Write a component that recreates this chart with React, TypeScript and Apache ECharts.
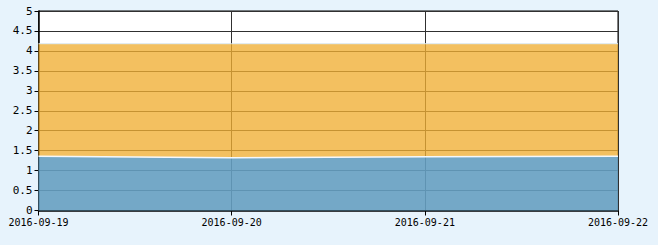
import React, { useEffect, useRef } from "react";
import * as echarts from "echarts";

const categories = ["2016-09-19", "2016-09-20", "2016-09-21", "2016-09-22"];
const blueValues = [1.36, 1.32, 1.35, 1.36];
const orangeValues = [2.82, 2.86, 2.83, 2.82];
const yTickLabels = ["0", "0.5", "1", "1.5", "2", "2.5", "3", "3.5", "4", "4.5", "5"];

export default function App() {
  const ref = useRef<HTMLDivElement>(null);
  useEffect(() => {
    const chart = echarts.init(ref.current!, null, { renderer: "svg" });
    const font = "'DejaVu Sans Mono', monospace";
    chart.setOption({
      animation: false,
      backgroundColor: "#e7f3fc",
      grid: {
        left: 38.5,
        right: 40,
        top: 11,
        bottom: 34.5,
        show: true,
        backgroundColor: "#ffffff",
        borderColor: "#000000",
        borderWidth: 1,
      },
      xAxis: {
        type: "category",
        data: categories,
        boundaryGap: false,
        axisLine: { lineStyle: { color: "#000", width: 1.5 } },
        axisTick: { show: true, length: 5, lineStyle: { color: "#000" } },
        axisLabel: { color: "#000", fontFamily: font, fontSize: 10, margin: 7, showMinLabel: true, showMaxLabel: true },
        splitLine: { show: true, lineStyle: { color: "#303030", width: 1 } },
      },
      yAxis: {
        type: "value",
        min: 0,
        max: 5,
        interval: 0.5,
        axisLine: { show: true, lineStyle: { color: "#000", width: 1.5 } },
        axisTick: { show: true, length: 4, lineStyle: { color: "#000" } },
        axisLabel: {
          color: "#000",
          fontFamily: font,
          fontSize: 11,
          margin: 6,
          formatter: (v: number) => {
            const idx = Math.round(v / 0.5);
            return yTickLabels[idx] ?? String(v);
          },
        },
        splitLine: { show: true, lineStyle: { color: "#303030", width: 1 } },
      },
      series: [
        {
          name: "blue",
          type: "line",
          stack: "total",
          data: blueValues,
          symbol: "none",
          lineStyle: { color: "#f4f8fb", width: 1.5 },
          areaStyle: { color: "rgba(101,159,193,0.9)", opacity: 1 },
        },
        {
          name: "orange",
          type: "line",
          stack: "total",
          data: orangeValues,
          symbol: "none",
          lineStyle: { color: "#dbeaf5", width: 1 },
          areaStyle: { color: "rgba(240,174,51,0.78)", opacity: 1 },
        },
      ],
    });
    return () => chart.dispose();
  }, []);
  return (
    <div
      ref={ref}
      style={{ position: "fixed", left: 0, top: 0, width: 658, height: 245 }}
    />
  );
}
